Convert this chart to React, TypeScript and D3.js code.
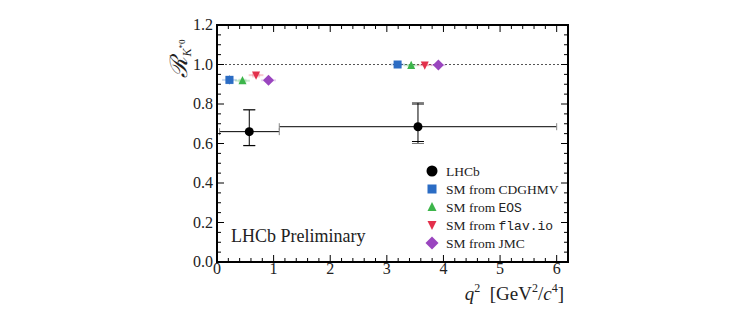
import React from "react";
import * as d3 from "d3";

const binLo = [0.045, 1.1];
const binHi = [1.1, 6.0];
const lhcbX = [0.57, 3.55];
const lhcbY = [0.66, 0.685];
const lhcbStatUp = [0.11, 0.115];
const lhcbStatDn = [0.07, 0.075];
const lhcbTotUp = [0.112, 0.122];
const lhcbTotDn = [0.072, 0.085];

const smNames = ["CDGHMV", "EOS", "flav.io", "JMC"];
const smColors = ["#2b6cc4", "#3cb54a", "#e3304b", "#9a45bf"];
const smShapes = ["square", "triangle", "triangleDown", "diamond"];
const smXLow = [0.22, 0.45, 0.69, 0.91];
const smYLow = [0.922, 0.918, 0.946, 0.92];
const smErrLow = [0.022, 0.01, 0.012, 0.01];
const smXHigh = [3.19, 3.43, 3.67, 3.91];
const smYHigh = [1.0, 0.996, 0.997, 0.997];
const smErrHigh = [0.008, 0.006, 0.006, 0.006];

const xTicks = [0, 1, 2, 3, 4, 5, 6];
const yTicks = [0.0, 0.2, 0.4, 0.6, 0.8, 1.0, 1.2];

const W = 740, H = 324;
const L = 217, R = 568, T = 25, B = 262;

function Marker({ shape, x, y, s, color }: any) {
  if (shape === "circle") return <circle cx={x} cy={y} r={s / 2} fill={color} />;
  if (shape === "square") return <rect x={x - s / 2} y={y - s / 2} width={s} height={s} fill={color} />;
  if (shape === "triangle") {
    const h = s * 0.9;
    return <path d={`M${x},${y - h / 2 - 1}L${x + s / 2},${y + h / 2}L${x - s / 2},${y + h / 2}Z`} fill={color} />;
  }
  if (shape === "triangleDown") {
    const h = s * 0.9;
    return <path d={`M${x},${y + h / 2 + 1}L${x + s / 2},${y - h / 2}L${x - s / 2},${y - h / 2}Z`} fill={color} />;
  }
  return <path d={`M${x},${y - s / 2 - 1}L${x + s / 2 + 1},${y}L${x},${y + s / 2 + 1}L${x - s / 2 - 1},${y}Z`} fill={color} />;
}

export default function App() {
  const x = d3.scaleLinear().domain([0, 6.2]).range([L, R]);
  const y = d3.scaleLinear().domain([0, 1.2]).range([B, T]);
  const xMinor = d3.range(0, 6.2001, 0.2);
  const yMinor = d3.range(0, 1.2001, 0.05);
  const serif = "'Liberation Serif', 'Times New Roman', serif";
  const mono = "'Liberation Mono', 'DejaVu Sans Mono', monospace";

  const legendRows = [
    { label: "LHCb", mono: null, shape: "circle", color: "#000", s: 11 },
    ...smNames.map((n, i) => ({
      label: "SM from ",
      mono: n === "EOS" || n === "flav.io" ? n : null,
      plain: n === "EOS" || n === "flav.io" ? "" : n,
      shape: smShapes[i],
      color: smColors[i],
      s: smShapes[i] === "diamond" ? 11 : 9,
    })),
  ];

  return (
    <svg width={W} height={H} style={{ display: "block", position: "absolute", left: 0, top: 0 }}>
      <rect width={W} height={H} fill="#fff" />
      {/* dotted line at 1 */}
      <line x1={L} x2={R} y1={y(1)} y2={y(1)} stroke="#555" strokeWidth={1} strokeDasharray="2,2" />
      {/* SM points */}
      {smNames.map((n, i) => (
        <g key={n}>
          {[
            [smXLow[i], smYLow[i], smErrLow[i]],
            [smXHigh[i], smYHigh[i], smErrHigh[i]],
          ].map(([px, py, pe], j) => (
            <g key={j}>
              <line x1={x(px - 0.13)} x2={x(px + 0.13)} y1={y(py)} y2={y(py)} stroke={smColors[i]} strokeOpacity={0.25} strokeWidth={2} />
              <rect x={x(px) - 4} y={y(py + pe)} width={8} height={Math.max(1, y(py - pe) - y(py + pe))} fill={smColors[i]} fillOpacity={0.2} />
              <line x1={x(px)} x2={x(px)} y1={y(py + pe)} y2={y(py - pe)} stroke={smColors[i]} strokeWidth={1} />
              <Marker shape={smShapes[i]} x={x(px)} y={y(py)} s={smShapes[i] === "diamond" ? 9 : 8} color={smColors[i]} />
            </g>
          ))}
        </g>
      ))}
      {/* LHCb points */}
      {lhcbX.map((px, i) => (
        <g key={i} stroke="#000" strokeWidth={1}>
          <line x1={x(binLo[i])} x2={x(binHi[i])} y1={y(lhcbY[i])} y2={y(lhcbY[i])} />
          <line x1={x(binLo[i])} x2={x(binLo[i])} y1={y(lhcbY[i]) - 3.5} y2={y(lhcbY[i]) + 3.5} stroke="#888" />
          <line x1={x(binHi[i])} x2={x(binHi[i])} y1={y(lhcbY[i]) - 3.5} y2={y(lhcbY[i]) + 3.5} stroke="#888" />
          <line x1={x(px)} x2={x(px)} y1={y(lhcbY[i] + lhcbTotUp[i])} y2={y(lhcbY[i] - lhcbTotDn[i])} />
          {[lhcbY[i] + lhcbTotUp[i], lhcbY[i] - lhcbTotDn[i]].map((v, k) => (
            <line key={"t" + k} x1={x(px) - 6} x2={x(px) + 6} y1={y(v)} y2={y(v)} stroke="#777" />
          ))}
          {[lhcbY[i] + lhcbStatUp[i], lhcbY[i] - lhcbStatDn[i]].map((v, k) => (
            <line key={"s" + k} x1={x(px) - 6} x2={x(px) + 6} y1={y(v)} y2={y(v)} />
          ))}
          <circle cx={x(px)} cy={y(lhcbY[i])} r={4.5} fill="#000" stroke="none" />
        </g>
      ))}
      {/* frame */}
      <rect x={L} y={T} width={R - L} height={B - T} fill="none" stroke="#000" strokeWidth={2} />
      {/* ticks */}
      <g stroke="#000" strokeWidth={1}>
        {xMinor.map((v, i) => {
          const major = Math.abs(v - Math.round(v)) < 1e-6;
          const len = major ? 7 : 4;
          return (
            <g key={"xm" + i}>
              <line x1={x(v)} x2={x(v)} y1={B} y2={B - len} />
              <line x1={x(v)} x2={x(v)} y1={T} y2={T + len} />
            </g>
          );
        })}
        {yMinor.map((v, i) => {
          const major = Math.abs(v * 5 - Math.round(v * 5)) < 1e-6;
          const len = major ? 7 : 4;
          return (
            <g key={"ym" + i}>
              <line x1={L} x2={L + len} y1={y(v)} y2={y(v)} />
              <line x1={R} x2={R - len} y1={y(v)} y2={y(v)} />
            </g>
          );
        })}
      </g>
      {/* tick labels */}
      <g fontFamily={serif} fontSize={16} fill="#222">
        {xTicks.map((v) => (
          <text key={"xl" + v} x={x(v)} y={B + 12} textAnchor="middle">{v}</text>
        ))}
        {yTicks.map((v) => (
          <text key={"yl" + v} x={L - 4} y={y(v) + 5} textAnchor="end">{v.toFixed(1)}</text>
        ))}
      </g>
      {/* axis labels */}
      <text x={R - 4} y={300} textAnchor="end" fontFamily={serif} fontSize={19} fill="#222">
        <tspan fontStyle="italic">q</tspan>
        <tspan fontSize={12} dy={-8}>2</tspan>
        <tspan dy={8}>{"\u2002[GeV"}</tspan>
        <tspan fontSize={12} dy={-8}>2</tspan>
        <tspan dy={8}>/</tspan>
        <tspan fontStyle="italic">c</tspan>
        <tspan fontSize={12} dy={-8}>4</tspan>
        <tspan dy={8}>]</tspan>
      </text>
      <text transform={`translate(187,${y(1.03)}) rotate(-90)`} fontFamily={serif} fontSize={24} fill="#222" textAnchor="middle">
        <tspan fontStyle="italic">ℛ</tspan>
        <tspan fontSize={12} dy={4} fontStyle="italic">K</tspan>
        <tspan fontSize={9} dy={-6}>*0</tspan>
      </text>
      <text x={231} y={242} fontFamily={serif} fontSize={18} fill="#222">LHCb Preliminary</text>
      {/* legend */}
      {legendRows.map((r: any, i) => {
        const cy = 171 + i * 18;
        return (
          <g key={i}>
            <Marker shape={r.shape} x={432} y={cy} s={r.s} color={r.color} />
            <text x={446} y={cy + 4.5} fontFamily={serif} fontSize={13.5} fill="#222">
              {r.label}
              {r.plain ? <tspan>{r.plain}</tspan> : null}
              {r.mono ? <tspan fontFamily={mono} fontSize={13}>{r.mono}</tspan> : null}
            </text>
          </g>
        );
      })}
    </svg>
  );
}
